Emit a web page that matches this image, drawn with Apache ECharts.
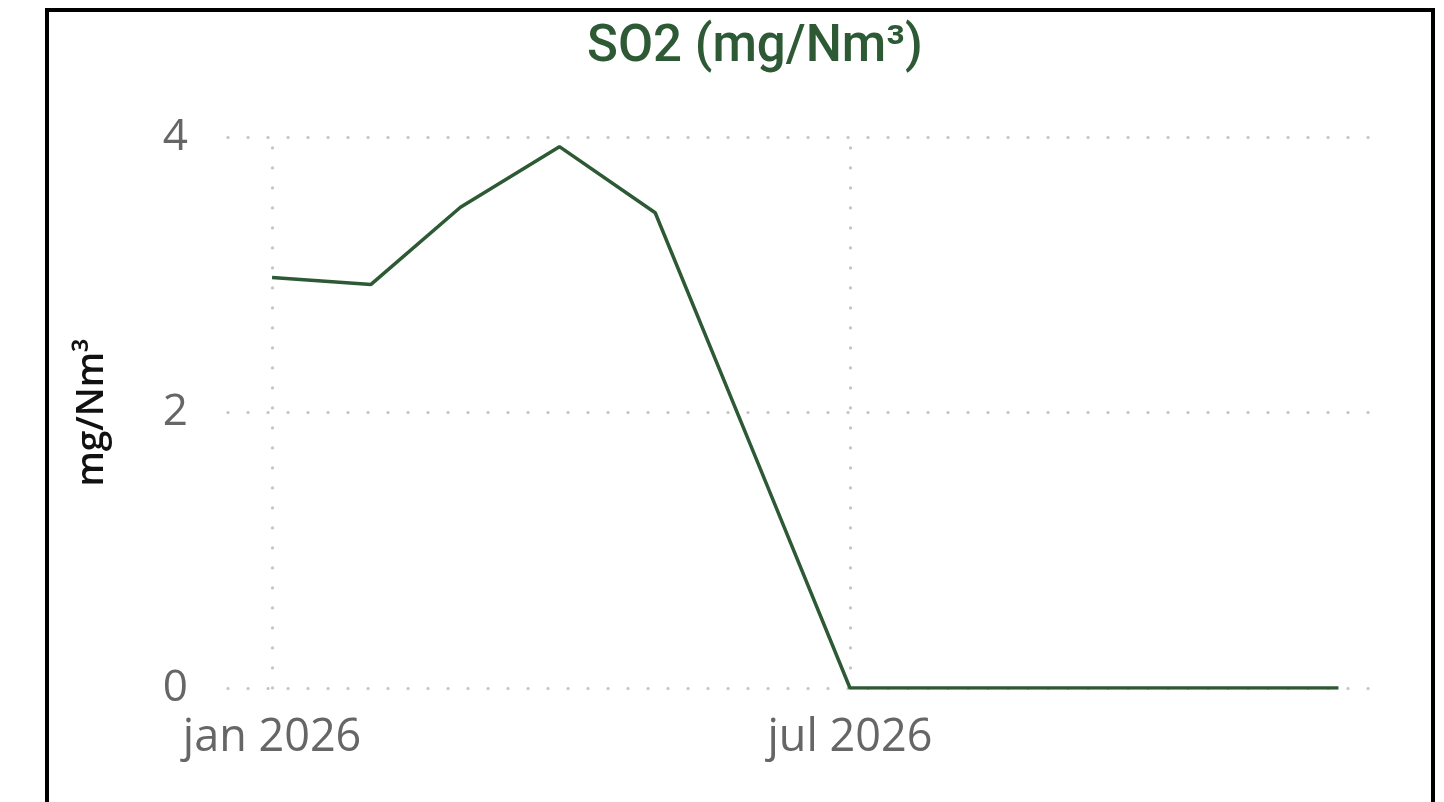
<!DOCTYPE html>
<html>
<head>
<meta charset="utf-8">
<title>SO2 (mg/Nm³)</title>
<script src="https://cdn.jsdelivr.net/npm/echarts@6/dist/echarts.min.js"></script>
<style>
    html, body { margin: 0; padding: 0; background: #fff; }
    #frame {
        position: absolute; left: 45px; top: 8px; width: 1390px; height: 820px;
        border: 4px solid #000; box-sizing: border-box;
    }
    #chart { position: absolute; left: 0; top: 0; width: 1444px; height: 802px; }
</style>
</head>
<body>
<div id="frame"></div>
<div id="chart"></div>
<script>
// maanden (1e van de maand) en SO2 waarden
const months = ['2026-01', '2026-02', '2026-03', '2026-04', '2026-05', '2026-06',
    '2026-07', '2026-08', '2026-09', '2026-10', '2026-11', '2026-12'];
const so2Values = [2.98, 2.93, 3.49, 3.93, 3.45, 1.7, 0, 0, 0, 0, 0, 0];
const xLabelMonths = ['2026-01', '2026-07'];
const yTicks = [0, 2, 4];

// x-as in dagen vanaf 1 jan 2026 (time-as met customValues gaf fout)
const DAY = 24 * 3600 * 1000;
const origin = Date.UTC(2026, 0, 1);
const toDay = (m) => {
    const p = m.split('-');
    return (Date.UTC(+p[0], +p[1] - 1, 1) - origin) / DAY;
};
const monthNames = ['jan', 'feb', 'mrt', 'apr', 'mei', 'jun', 'jul', 'aug', 'sep', 'okt', 'nov', 'dec'];

const green = '#2d5a35';
const labelFont = '"Open Sans", "Noto Sans", sans-serif';
// ronde stippen, 20px uit elkaar
const dotted = { color: '#c4c4c4', width: 3.2, type: [0.1, 19.9], cap: 'round' };

const chart = echarts.init(document.getElementById('chart'));
chart.setOption({
    animation: false,
    title: {
        text: 'SO2 (mg/Nm³)',
        left: 750,
        textAlign: 'center',
        top: 18,
        textStyle: { color: green, fontSize: 51, fontWeight: 500, fontFamily: 'Roboto, sans-serif' }
    },
    grid: { left: 228, right: 72, top: 137, bottom: 114 },
    xAxis: {
        type: 'value',
        min: toDay(months[0]) - 13.8,
        max: toDay(months[months.length - 1]) + 10.5,
        axisLine: { show: false },
        axisTick: { show: false, customValues: xLabelMonths.map(toDay) },
        splitLine: { show: false },
        axisLabel: {
            customValues: xLabelMonths.map(toDay),
            margin: 28,
            color: '#666',
            fontSize: 45,
            fontFamily: labelFont,
            formatter: (v) => {
                const d = new Date(origin + v * DAY);
                return monthNames[d.getUTCMonth()] + ' ' + d.getUTCFullYear();
            }
        }
    },
    yAxis: {
        type: 'value',
        min: yTicks[0],
        max: yTicks[yTicks.length - 1],
        interval: 2,
        name: 'mg/Nm³',
        nameLocation: 'middle',
        nameGap: 117,
        nameTextStyle: { color: '#111', fontSize: 37, fontWeight: 600, fontFamily: labelFont },
        axisLine: { show: false },
        axisTick: { show: false },
        axisLabel: { margin: 40, color: '#666', fontSize: 44, fontFamily: labelFont },
        splitLine: { lineStyle: dotted }
    },
    series: [{
        type: 'line',
        data: months.map((m, i) => [toDay(m), so2Values[i]]),
        showSymbol: false,
        lineStyle: { color: green, width: 3.5 },
        itemStyle: { color: green },
        z: 3,
        // verticale stippellijnen bij de labelmaanden
        markLine: {
            silent: true,
            symbol: 'none',
            label: { show: false },
            lineStyle: dotted,
            z: 1,
            data: xLabelMonths.map((m) => [
                { coord: [toDay(m), yTicks[0]] },
                { coord: [toDay(m), yTicks[yTicks.length - 1]] }
            ])
        }
    }]
});
</script>
</body>
</html>
